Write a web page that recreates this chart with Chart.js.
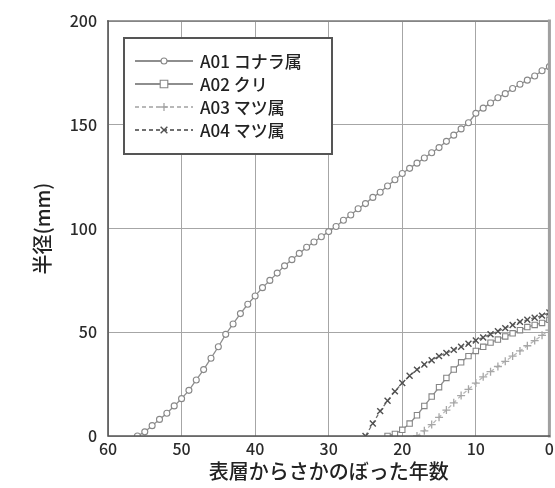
<!DOCTYPE html>
<html><head><meta charset="utf-8">
<script src="https://cdn.jsdelivr.net/npm/chart.js@4"></script>
<style>html,body{margin:0;padding:0;background:#fff;overflow:hidden}</style>
</head><body>
<canvas id="c" width="555" height="488" style="display:block;width:555px;height:488px"></canvas>
<script>
const seriesLabels = ['A01 コナラ属', 'A02 クリ', 'A03 マツ属', 'A04 マツ属'];
const xTitle = '表層からさかのぼった年数';
const yTitle = '半径(mm)';
const xTicks = [60, 50, 40, 30, 20, 10, 0];
const yTicks = [0, 50, 100, 150, 200];

const yearsA01 = [56,55,54,53,52,51,50,49,48,47,46,45,44,43,42,41,40,39,38,37,36,35,34,33,32,31,30,29,28,27,26,25,24,23,22,21,20,19,18,17,16,15,14,13,12,11,10,9,8,7,6,5,4,3,2,1,0];
const valuesA01 = [0,2,5,8,11,14.5,18,22,27,32,37.5,43,49,54,59,63.5,67.5,71.5,75,78.5,82,85,88,91,93.5,96,98.5,101,104,106.5,109.5,112,115,117.5,120.5,123.5,126.5,129,131.5,134,136.5,139,142,145,148,151,155.5,158,160.5,163,165,167.5,169.5,171.5,173.5,176,178];

const yearsA02 = [22,21,20,19,18,17,16,15,14,13,12,11,10,9,8,7,6,5,4,3,2,1,0];
const valuesA02 = [0,1,3,6,10,14.5,19,23.5,28,32,35.5,38.5,41,43,45,46.5,48,49.5,51,52.5,53.5,54.5,56];

const yearsA03 = [18,17,16,15,14,13,12,11,10,9,8,7,6,5,4,3,2,1,0];
const valuesA03 = [0,2.5,5.5,9,12.5,16,19.5,22.5,25.5,28.5,31,33.5,36,38.5,41,43.5,46,48.5,51];

const yearsA04 = [25,24,23,22,21,20,19,18,17,16,15,14,13,12,11,10,9,8,7,6,5,4,3,2,1,0];
const valuesA04 = [0,6,12,17,21.5,25.5,29,32,34.5,36.5,38.5,40,41.5,43,44.5,46,47.5,49,50.5,52,53.5,55,56,57,58,59.5];

const FONT = "'Noto Sans CJK JP', 'Noto Sans', sans-serif";
const pts = (xs, ys) => xs.map((x, i) => ({x: x, y: ys[i]}));

const styles = [
  {borderColor:'#8e8e8e', borderWidth:1.3, borderDash:[], pointStyle:'circle', pointRadius:3, pointBorderColor:'#888888', pointBackgroundColor:'#ffffff', pointBorderWidth:1.1},
  {borderColor:'#8e8e8e', borderWidth:1.3, borderDash:[], pointStyle:'rect', pointRadius:3.8, pointBorderColor:'#858585', pointBackgroundColor:'#ffffff', pointBorderWidth:1.1},
  {borderColor:'#b8b8b8', borderWidth:1.3, borderDash:[4,3], pointStyle:'cross', pointRadius:4, pointBorderColor:'#a6a6a6', pointBackgroundColor:'#ffffff', pointBorderWidth:1.3},
  {borderColor:'#707070', borderWidth:1.3, borderDash:[4,3], pointStyle:'crossRot', pointRadius:4.2, pointBorderColor:'#505050', pointBackgroundColor:'#ffffff', pointBorderWidth:1.4}
];
const dataSets = [pts(yearsA01, valuesA01), pts(yearsA02, valuesA02), pts(yearsA03, valuesA03), pts(yearsA04, valuesA04)];

const framePlugin = {
  id: 'frame',
  afterDatasetsDraw(chart) {
    const {ctx, chartArea: a} = chart;
    ctx.save();
    ctx.lineCap = 'square';
    ctx.strokeStyle = '#7a7a7a'; ctx.lineWidth = 1.6;
    ctx.beginPath(); ctx.moveTo(a.left, a.top); ctx.lineTo(a.right, a.top); ctx.stroke();
    ctx.strokeStyle = '#a0a0a0'; ctx.lineWidth = 3;
    ctx.beginPath(); ctx.moveTo(a.right, a.top); ctx.lineTo(a.right, a.bottom); ctx.stroke();
    ctx.strokeStyle = '#555555'; ctx.lineWidth = 1.6;
    ctx.beginPath(); ctx.moveTo(a.left, a.top); ctx.lineTo(a.left, a.bottom); ctx.lineTo(a.right, a.bottom); ctx.stroke();
    ctx.restore();
  }
};

function drawMarker(ctx, style, r, x, y) {
  ctx.beginPath();
  if (style === 'circle') { ctx.arc(x, y, r, 0, Math.PI*2); ctx.fill(); ctx.stroke(); }
  else if (style === 'rect') { ctx.rect(x-r, y-r, 2*r, 2*r); ctx.fill(); ctx.stroke(); }
  else if (style === 'cross') { ctx.moveTo(x-r, y); ctx.lineTo(x+r, y); ctx.moveTo(x, y-r); ctx.lineTo(x, y+r); ctx.stroke(); }
  else { const d = r*0.8; ctx.moveTo(x-d, y-d); ctx.lineTo(x+d, y+d); ctx.moveTo(x+d, y-d); ctx.lineTo(x-d, y+d); ctx.stroke(); }
}

const legendPlugin = {
  id: 'boxLegend',
  afterDraw(chart) {
    const ctx = chart.ctx;
    const bx = 124, by = 38, bw = 208, bh = 116;
    ctx.save();
    ctx.fillStyle = '#ffffff';
    ctx.fillRect(bx, by, bw, bh);
    ctx.strokeStyle = '#555555'; ctx.lineWidth = 2;
    ctx.strokeRect(bx, by, bw, bh);
    const rowY = [61, 84, 107, 130];
    chart.data.datasets.forEach((ds, i) => {
      const y = rowY[i];
      ctx.setLineDash(ds.borderDash || []);
      ctx.strokeStyle = ds.borderColor; ctx.lineWidth = 1.8;
      ctx.beginPath(); ctx.moveTo(135, y); ctx.lineTo(193, y); ctx.stroke();
      ctx.setLineDash([]);
      ctx.strokeStyle = ds.pointBorderColor; ctx.fillStyle = ds.pointBackgroundColor; ctx.lineWidth = ds.pointBorderWidth;
      drawMarker(ctx, ds.pointStyle, ds.pointRadius, 164, y);
      ctx.fillStyle = '#222222';
      ctx.font = "500 17px " + FONT;
      ctx.textBaseline = 'middle'; ctx.textAlign = 'left';
      ctx.fillText(ds.label, 200, y + 1);
    });
    ctx.restore();
  }
};

new Chart(document.getElementById('c'), {
  type: 'scatter',
  data: {
    datasets: seriesLabels.map((lab, i) => Object.assign({label: lab, data: dataSets[i], showLine: true, tension: 0, fill: false}, styles[i]))
  },
  options: {
    responsive: false,
    devicePixelRatio: 1,
    animation: false,
    layout: {padding: {top: 21, right: 4, left: 0, bottom: 0}},
    plugins: {legend: {display: false}, tooltip: {enabled: false}},
    scales: {
      x: {
        type: 'linear', reverse: true, min: 0, max: 60,
        afterBuildTicks(s) { s.ticks = xTicks.map(v => ({value: v})); },
        ticks: {color: '#2a2a2a', font: {family: FONT, size: 16, weight: '500'}, padding: 3, maxRotation: 0, autoSkip: false},
        grid: {color: '#a6a6a6', lineWidth: 1, drawTicks: false},
        border: {display: false},
        title: {display: true, text: xTitle, color: '#222222', font: {family: FONT, size: 20, weight: '500'}, padding: {top: 0, bottom: 5}},
        afterFit(s) { s.height = 52; s.paddingLeft = 0; s.paddingRight = 0; }
      },
      y: {
        type: 'linear', min: 0, max: 200,
        afterBuildTicks(s) { s.ticks = yTicks.map(v => ({value: v})); },
        ticks: {color: '#2a2a2a', font: {family: FONT, size: 16, weight: '500'}, padding: 11},
        grid: {color: '#a6a6a6', lineWidth: 1, drawTicks: false},
        border: {display: false},
        title: {display: true, text: yTitle, color: '#222222', font: {family: FONT, size: 20, weight: '500'}, padding: {top: 30, bottom: 0}},
        afterFit(s) { s.width = 108; s.paddingTop = 0; s.paddingBottom = 0; }
      }
    }
  },
  plugins: [framePlugin, legendPlugin]
});
</script>
</body></html>
